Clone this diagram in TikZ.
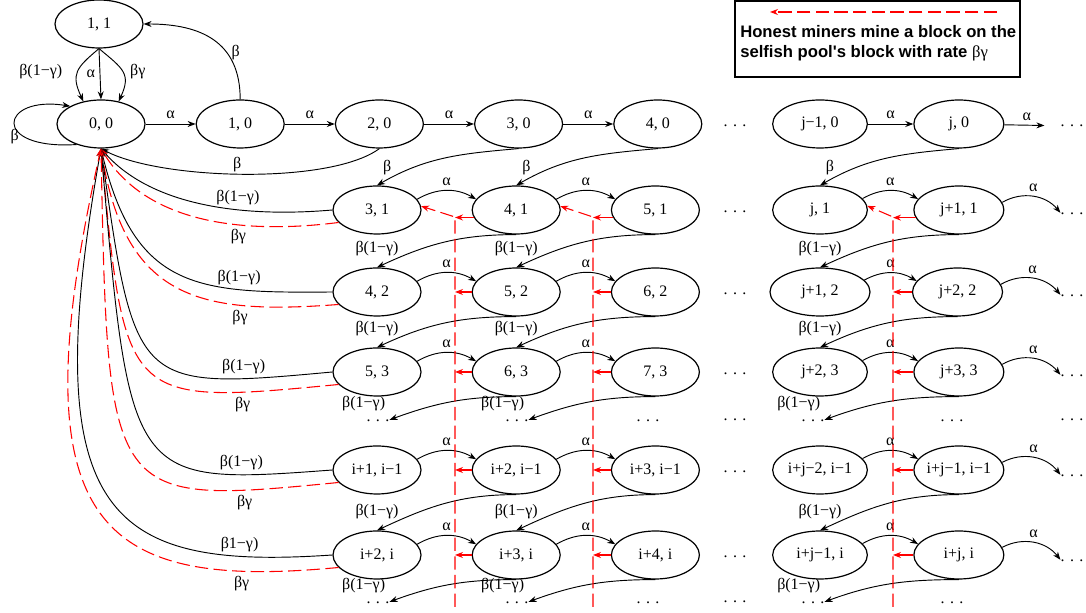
\documentclass[tikz,border=0pt]{standalone}
\usepackage{fontspec}
\setmainfont{Liberation Serif}
\newfontfamily\legendfont{Liberation Sans}
\usepackage{tikz}
\usetikzlibrary{shapes,arrows,arrows.meta,positioning}

\tikzstyle{state} = [ellipse, draw, line width=0.9pt, minimum width=66pt,
    minimum height=36pt, inner xsep=-4pt, inner ysep=0pt]
\tikzstyle{widestate} = [state, minimum width=71pt]
\tikzstyle{lastcol} = [state, minimum width=67.5pt]
\tikzstyle{dotsnode} = [inner sep=0pt]
\tikzstyle{trans} = [draw, line width=0.7pt, -{Stealth[length=6pt,width=4.5pt]}]
\tikzstyle{honest} = [draw=red, line width=0.8pt, dash pattern=on 10pt off 4pt,
    -{Stealth[length=6pt,width=4.5pt]}]
\tikzstyle{honeststub} = [draw=red, line width=0.8pt, -{Stealth[length=6pt,width=4.5pt]}]
\tikzstyle{dotlabel} = [pos=1, anchor=south east, inner sep=0pt, yshift=6pt, xshift=-3pt]

\begin{document}
\begin{tikzpicture}[x=0.75pt, y=0.75pt, node distance=37.5pt, font=\fontsize{12}{14}\selectfont]
    \useasboundingbox (0,0) rectangle (1086,613);

    % Place nodes
    \node [state] (S00) at (101,489) {0, 0};
    \node [state, right=of S00] (S10) {1, 0};
    \node [state, right=of S10] (S20) {2, 0};
    \node [state, right=of S20] (S30) {3, 0};
    \node [state, right=of S30] (S40) {4, 0};
    \node [state] (S11) at (99,589) {1, 1};
    \node [widestate] (Sj10) at (820,489) {j−1, 0};
    \node [lastcol, right=34pt of Sj10] (Sj0) {j, 0};

    \node [state] (S31) at (377,403) {3, 1};
    \node [state, right=of S31] (S41) {4, 1};
    \node [state, right=of S41] (S51) {5, 1};
    \node [widestate] (Sj1) at (820,403) {j, 1};
    \node [lastcol, right=34pt of Sj1] (Sj11) {j+1, 1};

    \node [state] (S42) at (377,321) {4, 2};
    \node [state, right=of S42] (S52) {5, 2};
    \node [state, right=of S52] (S62) {6, 2};
    \node [widestate, minimum width=75pt] (Sj12) at (820,321) {j+1, 2};
    \node [lastcol, right=31pt of Sj12] (Sj22) {j+2, 2};

    \node [state] (S53) at (377,241) {5, 3};
    \node [state, right=of S53] (S63) {6, 3};
    \node [state, right=of S63] (S73) {7, 3};
    \node [widestate] (Sj23) at (820,241) {j+2, 3};
    \node [lastcol, right=34pt of Sj23] (Sj33) {j+3, 3};

    \node [state] (Si1m1) at (377,143) {i+1, i−1};
    \node [state, right=of Si1m1] (Si2m1) {i+2, i−1};
    \node [state, right=of Si2m1] (Si3m1) {i+3, i−1};
    \node [widestate] (Sij2m1) at (820,143) {i+j−2, i−1};
    \node [lastcol, right=34pt of Sij2m1] (Sij1m1) {i+j−1, i−1};

    \node [state] (Si2i) at (377,58) {i+2, i};
    \node [state, right=of Si2i] (Si3i) {i+3, i};
    \node [state, right=of Si3i] (Si4i) {i+4, i};
    \node [widestate] (Sij1i) at (820,58) {i+j−1, i};
    \node [lastcol, right=34pt of Sij1i] (Siji) {i+j, i};

    % dots
    \node [dotsnode] (DL0) at (735,487) {.\hspace{4pt}.\hspace{4pt}.};
    \node [dotsnode] (DL1) at (735,401) {.\hspace{4pt}.\hspace{4pt}.};
    \node [dotsnode] (DL2) at (735,319) {.\hspace{4pt}.\hspace{4pt}.};
    \node [dotsnode] (DL3) at (735,239) {.\hspace{4pt}.\hspace{4pt}.};
    \node [dotsnode] (DL4) at (735,193) {.\hspace{4pt}.\hspace{4pt}.};
    \node [dotsnode] (DL5) at (735,141) {.\hspace{4pt}.\hspace{4pt}.};
    \node [dotsnode] (DL6) at (735,56) {.\hspace{4pt}.\hspace{4pt}.};
    \node [dotsnode] (DL7) at (735,11) {.\hspace{4pt}.\hspace{4pt}.};
    \node [dotsnode] (DR0) at (1072,487) {.\hspace{4pt}.\hspace{4pt}.};
    \node [dotsnode] (DR1) at (1072,399) {.\hspace{4pt}.\hspace{4pt}.};
    \node [dotsnode] (DR2) at (1072,317) {.\hspace{4pt}.\hspace{4pt}.};
    \node [dotsnode] (DR3) at (1072,237) {.\hspace{4pt}.\hspace{4pt}.};
    \node [dotsnode] (DR4) at (1072,193) {.\hspace{4pt}.\hspace{4pt}.};
    \node [dotsnode] (DR5) at (1072,137) {.\hspace{4pt}.\hspace{4pt}.};
    \node [dotsnode] (DR6) at (1072,52) {.\hspace{4pt}.\hspace{4pt}.};
    \node [dotsnode] (DA) at (378,192) {.\hspace{4pt}.\hspace{4pt}.};
    \node [dotsnode] (DB) at (517,192) {.\hspace{4pt}.\hspace{4pt}.};
    \node [dotsnode] (DC) at (648,192) {.\hspace{4pt}.\hspace{4pt}.};
    \node [dotsnode] (DD) at (813,192) {.\hspace{4pt}.\hspace{4pt}.};
    \node [dotsnode] (DE) at (952,192) {.\hspace{4pt}.\hspace{4pt}.};
    \node [dotsnode] (BA) at (378,10) {.\hspace{4pt}.\hspace{4pt}.};
    \node [dotsnode] (BB) at (517,10) {.\hspace{4pt}.\hspace{4pt}.};
    \node [dotsnode] (BC) at (648,10) {.\hspace{4pt}.\hspace{4pt}.};
    \node [dotsnode] (BD) at (813,10) {.\hspace{4pt}.\hspace{4pt}.};
    \node [dotsnode] (BE) at (952,10) {.\hspace{4pt}.\hspace{4pt}.};

    % legend
    \node [draw, line width=0.9pt, minimum width=213.75pt, minimum height=57pt, inner sep=0pt] (Legend) at (877.5,574) {};
    \node [anchor=north west, inner sep=0pt, align=left, font=\legendfont\bfseries\fontsize{12.5}{15}\selectfont] (LegendText) at (740,588)
        {Honest miners mine a block on the\\selfish pool's block with rate {\rmfamily\mdseries βγ}};
    \coordinate (LegR) at (997,601);
    \coordinate (LegL) at (770,601);
    \draw [honest] (LegR) -- (LegL);

    % top row
    \draw [trans] (S00) -- node[above] {α} (S10);
    \draw [trans] (S10) -- node[above] {α} (S20);
    \draw [trans] (S20) -- node[above] {α} (S30);
    \draw [trans] (S30) -- node[above] {α} (S40);
    \draw [trans] (Sj10) -- node[above] {α} (Sj0);
    \draw [trans, shorten >=12pt] (Sj0) -- node[above, pos=0.4] {α} (DR0);

    \draw [trans] (S11.south) -- node[left] {α} (S00.north);
    \draw [trans] (S11.south) to[out=-140, in=115, looseness=1.4] node[left=8pt] {β(1−γ)} (S00.128);
    \draw [trans] (S11.south) to[out=-40, in=65, looseness=1.4] node[right=2pt] {βγ} (S00.52);
    \draw [trans] (S10.north) to[out=90, in=0, looseness=1.2] node[pos=0.35, right] {β} (S11.east);
    \draw [trans] (S00.220) .. controls (-10,463) and (0,518) .. (S00.150) node[pos=0.3, left] {β};
    \draw [trans] (S20.south) .. controls (330,428) and (160,433) .. (S00.south) node[pos=0.52, above, inner sep=1pt] {β};

    % fan back to 0,0
    \draw [trans] (S31.west) .. controls (240,395) and (150,408) .. (S00.south) node[pos=0.35, above] {β(1−γ)};
    \draw [honest] (S31.198) .. controls (240,378) and (145,391) .. (S00.south) node[pos=0.35, below] {βγ};
    \draw [trans] (S42.west) .. controls (200,320) and (135,321) .. (S00.south) node[pos=0.27, above] {β(1−γ)};
    \draw [honest] (S42.198) .. controls (200,298) and (125,313) .. (S00.south) node[pos=0.27, below] {βγ};
    \draw [trans] (S53.west) .. controls (135,223) .. (S00.south) node[pos=0.18, above] {β(1−γ)};
    \draw [honest] (S53.198) .. controls (125,208) .. (S00.south) node[pos=0.18, below] {βγ};
    \draw [trans] (Si1m1.west) .. controls (130,128) .. (S00.south) node[pos=0.18, above] {β(1−γ)};
    \draw [honest] (Si1m1.198) .. controls (108,108) .. (S00.south) node[pos=0.16, below] {βγ};
    \draw [trans] (Si2i.west) .. controls (110,43) and (35,93) .. (S00.south) node[pos=0.155, above] {β1−γ)};
    \draw [honest] (Si2i.198) .. controls (100,23) and (15,83) .. (S00.south) node[pos=0.15, below] {βγ};

    % beta from the top row
    \draw [trans] (S30.south) to[out=185, in=30] node[pos=0.93, above] {β} (S31.north);
    \draw [trans] (S40.south) to[out=185, in=30] node[pos=0.93, above] {β} (S41.north);
    \draw [trans] (Sj0.south) to[out=185, in=30] node[pos=0.93, above] {β} (Sj1.north);

    % alpha along the rows
    \draw [trans] (S31.15) to[bend left=30] node[above] {α} (S41.165);
    \draw [trans] (S41.15) to[bend left=30] node[above] {α} (S51.165);
    \draw [trans] (Sj1.15) to[bend left=30] node[above] {α} (Sj11.165);
    \draw [trans] (Sj11.10) to[bend left=40] node[above] {α} (DR1.north west);
    \draw [trans] (S42.15) to[bend left=30] node[above] {α} (S52.165);
    \draw [trans] (S52.15) to[bend left=30] node[above] {α} (S62.165);
    \draw [trans] (Sj12.15) to[bend left=30] node[above] {α} (Sj22.165);
    \draw [trans] (Sj22.10) to[bend left=40] node[above] {α} (DR2.north west);
    \draw [trans] (S53.15) to[bend left=30] node[above] {α} (S63.165);
    \draw [trans] (S63.15) to[bend left=30] node[above] {α} (S73.165);
    \draw [trans] (Sj23.15) to[bend left=30] node[above] {α} (Sj33.165);
    \draw [trans] (Sj33.10) to[bend left=40] node[above] {α} (DR3.north west);
    \draw [trans] (Si1m1.15) to[bend left=30] node[above] {α} (Si2m1.165);
    \draw [trans] (Si2m1.15) to[bend left=30] node[above] {α} (Si3m1.165);
    \draw [trans] (Sij2m1.15) to[bend left=30] node[above] {α} (Sij1m1.165);
    \draw [trans] (Sij1m1.10) to[bend left=40] node[above] {α} (DR5.north west);
    \draw [trans] (Si2i.15) to[bend left=30] node[above] {α} (Si3i.165);
    \draw [trans] (Si3i.15) to[bend left=30] node[above] {α} (Si4i.165);
    \draw [trans] (Sij1i.15) to[bend left=30] node[above] {α} (Siji.165);
    \draw [trans] (Siji.10) to[bend left=40] node[above] {α} (DR6.north west);

    % beta(1-gamma) between the rows
    \draw [trans] (S41.south) to[out=180, in=25] node[pos=1, above=5pt] {β(1−γ)} (S42.north);
    \draw [trans] (S51.south) to[out=180, in=25] node[pos=1, above=5pt] {β(1−γ)} (S52.north);
    \draw [trans] (Sj11.south) to[out=180, in=25] node[pos=1, above=5pt] {β(1−γ)} (Sj12.north);
    \draw [trans] (S52.south) to[out=180, in=25] node[pos=1, above=5pt] {β(1−γ)} (S53.north);
    \draw [trans] (S62.south) to[out=180, in=25] node[pos=1, above=5pt] {β(1−γ)} (S63.north);
    \draw [trans] (Sj22.south) to[out=180, in=25] node[pos=1, above=5pt] {β(1−γ)} (Sj23.north);
    \draw [trans] (S63.south) to[out=180, in=20] node[dotlabel] {β(1−γ)} (DA.north east);
    \draw [trans] (S73.south) to[out=180, in=20] node[dotlabel] {β(1−γ)} (DB.north east);
    \draw [trans] (Sj33.south) to[out=180, in=20] node[dotlabel] {β(1−γ)} (DD.north east);
    \draw [trans] (Si2m1.south) to[out=180, in=25] node[pos=1, above=5pt] {β(1−γ)} (Si2i.north);
    \draw [trans] (Si3m1.south) to[out=180, in=25] node[pos=1, above=5pt] {β(1−γ)} (Si3i.north);
    \draw [trans] (Sij1m1.south) to[out=180, in=25] node[pos=1, above=5pt] {β(1−γ)} (Sij1i.north);
    \draw [trans] (Si3i.south) to[out=180, in=20] node[dotlabel] {β(1−γ)} (BA.north east);
    \draw [trans] (Si4i.south) to[out=180, in=20] node[dotlabel] {β(1−γ)} (BB.north east);
    \draw [trans] (Siji.south) to[out=180, in=20] node[dotlabel] {β(1−γ)} (BD.north east);

    % honest miners on the pool's block
    \coordinate (V1top) at (455,396);
    \coordinate (V1bot) at (455,6);
    \coordinate (V2top) at (593,396);
    \coordinate (V2bot) at (593,6);
    \coordinate (V3top) at (893,396);
    \coordinate (V3bot) at (893,6);
    \draw [honest] (V1bot) -- (V1top) -- (S31.5);
    \draw [honest] (V2bot) -- (V2top) -- (S41.5);
    \draw [honest] (V3bot) -- (V3top) -- (Sj1.5);

    \draw [honeststub] (S41.190) -- (S41.190 -| V1top);
    \draw [honeststub] (S52.west) -- (S52.west -| V1top);
    \draw [honeststub] (S63.west) -- (S63.west -| V1top);
    \draw [honeststub] (Si2m1.west) -- (Si2m1.west -| V1top);
    \draw [honeststub] (Si3i.west) -- (Si3i.west -| V1top);
    \draw [honeststub] (S51.190) -- (S51.190 -| V2top);
    \draw [honeststub] (S62.west) -- (S62.west -| V2top);
    \draw [honeststub] (S73.west) -- (S73.west -| V2top);
    \draw [honeststub] (Si3m1.west) -- (Si3m1.west -| V2top);
    \draw [honeststub] (Si4i.west) -- (Si4i.west -| V2top);
    \draw [honeststub] (Sj11.190) -- (Sj11.190 -| V3top);
    \draw [honeststub] (Sj22.west) -- (Sj22.west -| V3top);
    \draw [honeststub] (Sj33.west) -- (Sj33.west -| V3top);
    \draw [honeststub] (Sij1m1.west) -- (Sij1m1.west -| V3top);
    \draw [honeststub] (Siji.west) -- (Siji.west -| V3top);

\end{tikzpicture}
\end{document}
